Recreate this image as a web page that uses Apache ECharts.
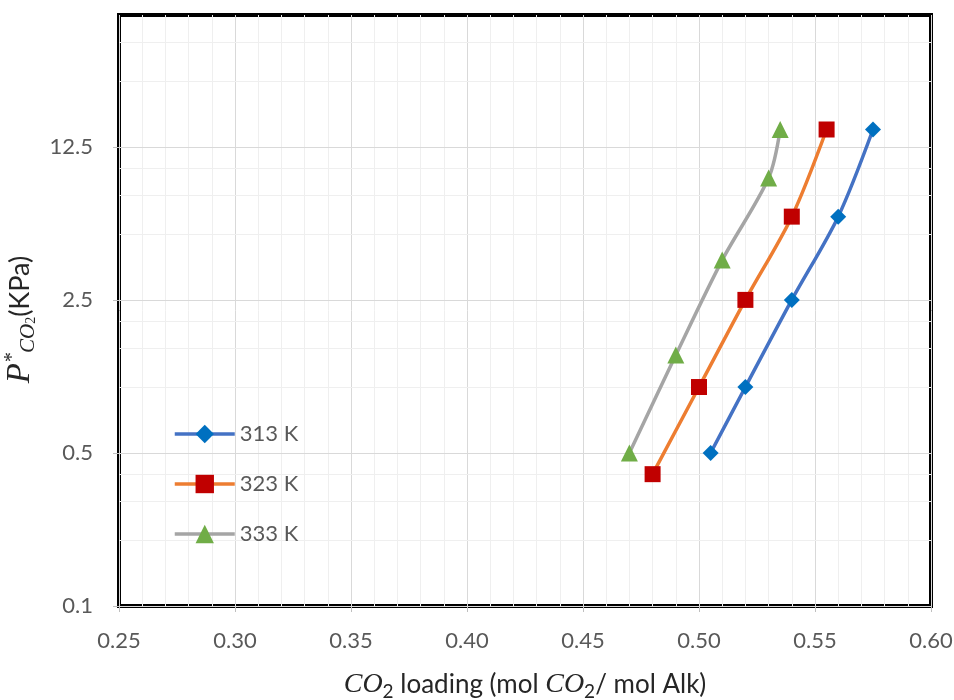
<!DOCTYPE html>
<html>
<head>
<meta charset="utf-8">
<script src="https://cdn.jsdelivr.net/npm/echarts@6/dist/echarts.min.js"></script>
<style>
  html, body { margin: 0; padding: 0; background: #fff; }
  #chart { width: 954px; height: 700px; }
</style>
</head>
<body>
<div id="chart"></div>
<script>
// 数据
var seriesNames = ['313 K', '323 K', '333 K'];
var data313 = [[0.505, 0.5], [0.52, 1.0], [0.54, 2.5], [0.56, 6.0], [0.575, 15]];
var data323 = [[0.48, 0.4], [0.50, 1.0], [0.52, 2.5], [0.54, 6.0], [0.555, 15]];
var data333 = [[0.47, 0.5], [0.49, 1.4], [0.51, 3.8], [0.53, 9.0], [0.535, 15]];

// 纵轴刻度 (对数, 底数 5)
var yTicks = [0.1, 0.5, 2.5, 12.5];
var yMinorLines = [0.2, 0.3, 0.4, 1, 1.5, 2, 5, 7.5, 10, 25, 37.5];

var chart = echarts.init(document.getElementById('chart'));

var labelFont = 'Lato, "Open Sans", sans-serif';
var mathFont = '"Liberation Serif", "DejaVu Serif", serif';

// 横线(网格)
var gridLines = [];
for (var i = 0; i < yMinorLines.length; i++) {
  gridLines.push({ yAxis: yMinorLines[i], lineStyle: { color: '#efefef', width: 1, type: 'solid' } });
}
for (var j = 0; j < yTicks.length; j++) {
  gridLines.push({ yAxis: yTicks[j], lineStyle: { color: '#d9d9d9', width: 1, type: 'solid' } });
}

function makeSeries(name, data, lineColor, symbol, symbolColor, size) {
  return {
    name: name,
    type: 'line',
    data: data,
    smooth: 0.3,
    symbol: symbol,
    symbolSize: size,
    z: 3,
    lineStyle: { color: lineColor, width: 3.5 },
    itemStyle: { color: symbolColor, borderWidth: 0 }
  };
}

var s1 = makeSeries(seriesNames[0], data313, '#4472C4', 'diamond', '#0070C0', 16);
var s2 = makeSeries(seriesNames[1], data323, '#ED7D31', 'rect', '#C00000', 16);
var s3 = makeSeries(seriesNames[2], data333, '#A5A5A5', 'triangle', '#70AD47', 17);
s1.markLine = {
  silent: true,
  symbol: 'none',
  z: 1,
  label: { show: false },
  animation: false,
  data: gridLines
};

var option = {
  animation: false,
  grid: {
    left: 119,
    right: 23,
    top: 15,
    bottom: 94,
    containLabel: false,
    outerBoundsMode: 'none',
    show: true,
    borderColor: '#000',
    borderWidth: 4
  },
  legend: {
    data: seriesNames,
    orient: 'vertical',
    left: 173,
    top: 423,
    padding: 0,
    itemWidth: 60,
    itemHeight: 23,
    itemGap: 28,
    lineStyle: { width: 3.5 },
    textStyle: { fontFamily: labelFont, fontSize: 22, color: '#595959' }
  },
  xAxis: {
    type: 'value',
    min: 0.25,
    max: 0.60,
    interval: 0.05,
    name: '{it|CO}{sub|2}{n| loading (mol }{it|CO}{sub|2}{n|/ mol Alk)}',
    nameLocation: 'middle',
    nameGap: 63,
    nameTextStyle: {
      rich: {
        it: { fontFamily: mathFont, fontStyle: 'italic', fontSize: 28, color: '#262626', lineHeight: 32 },
        sub: { fontFamily: labelFont, fontSize: 19, color: '#262626', verticalAlign: 'bottom', lineHeight: 19 },
        n: { fontFamily: labelFont, fontSize: 26, color: '#262626', lineHeight: 32 }
      }
    },
    axisLine: { show: false },
    axisTick: { show: true, length: 6, lineStyle: { color: '#bfbfbf' } },
    axisLabel: {
      margin: 24,
      fontFamily: labelFont,
      fontSize: 22,
      color: '#595959',
      formatter: function(v) { return v.toFixed(2); }
    },
    splitLine: { show: true, lineStyle: { color: '#d9d9d9', width: 1 } },
    minorTick: { show: false, splitNumber: 5 },
    minorSplitLine: { show: true, lineStyle: { color: '#efefef', width: 1 } }
  },
  yAxis: {
    type: 'log',
    logBase: 5,
    min: 0.1,
    max: 50,
    name: '{p|P}{sup|*}{sub|CO}{sub2|2}{n|(KPa)}',
    nameLocation: 'middle',
    nameRotate: 90,
    nameGap: 70,
    nameTextStyle: {
      padding: [0, 18, 0, 0],
      rich: {
        p: { fontFamily: mathFont, fontStyle: 'italic', fontSize: 33, color: '#262626', lineHeight: 36 },
        sup: { fontFamily: mathFont, fontStyle: 'italic', fontSize: 20, color: '#262626', verticalAlign: 'top', lineHeight: 20 },
        sub: { fontFamily: mathFont, fontStyle: 'italic', fontSize: 21, color: '#262626', verticalAlign: 'bottom', lineHeight: 21 },
        sub2: { fontFamily: mathFont, fontSize: 14, color: '#262626', verticalAlign: 'bottom', lineHeight: 14 },
        n: { fontFamily: labelFont, fontSize: 27, color: '#262626', lineHeight: 36 }
      }
    },
    axisLine: { show: false },
    axisTick: { show: true, length: 6, customValues: yTicks, lineStyle: { color: '#bfbfbf' } },
    axisLabel: {
      margin: 26,
      customValues: yTicks,
      fontFamily: labelFont,
      fontSize: 22,
      color: '#595959',
      formatter: function(v) { return String(v); }
    },
    splitLine: { show: false }
  },
  series: [s1, s2, s3]
};

chart.setOption(option);
</script>
</body>
</html>
